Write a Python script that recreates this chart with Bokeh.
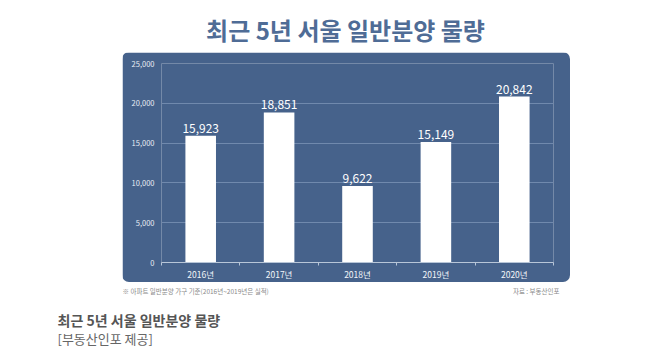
from bokeh.plotting import figure
from bokeh.models import (ColumnDataSource, FixedTicker, Label, Range1d,
                          NumeralTickFormatter, LabelSet, Spacer)
from bokeh.layouts import column, row
from bokeh.core.properties import value
from bokeh.embed import file_html
from bokeh.resources import INLINE

years = ["2016년", "2017년", "2018년", "2019년", "2020년"]
values = [15923, 18851, 9622, 15149, 20842]
value_labels = ["15,923", "18,851", "9,622", "15,149", "20,842"]
y_ticks = [0, 5000, 10000, 15000, 20000, 25000]

title_text = "최근 5년 서울 일반분양 물량"
note_text = "※ 아파트 일반분양 가구 기준(2016년~2019년은 실적)"
source_text = "자료 : 부동산인포"
caption_text = "최근 5년 서울 일반분양 물량"
caption_sub = "[부동산인포 제공]"

PANEL = "#46628b"
FONT = "Noto Sans CJK KR"

W = 637
H_TOP, H_MID, H_BOT = 52, 230, 70
PANEL_LEFT, PANEL_W = 122, 448


def text_fig(h):
    f = figure(width=W, height=h, output_backend="svg", toolbar_location=None,
               x_range=Range1d(0, W), y_range=Range1d(h, 0),
               x_axis_location=None, y_axis_location=None,
               min_border=0, min_border_left=0, min_border_right=0,
               min_border_top=0, min_border_bottom=0)
    f.grid.visible = False
    f.outline_line_color = None
    f.background_fill_color = "white"
    f.border_fill_color = "white"
    return f


def add_text(f, x, y, text, align, size, color, bold=False):
    f.add_layout(Label(x=x, y=y, text=text, text_align=align,
                       text_baseline="middle", text_font=FONT,
                       text_font_style="bold" if bold else "normal",
                       text_font_size=size, text_color=color))


# --- title
top = text_fig(H_TOP)
add_text(top, 345, 29, title_text, "center", "24px", "#4f6c96", bold=True)

# --- chart panel
xs = list(range(len(years)))
src = ColumnDataSource(dict(x=xs, top=values, lab=value_labels))

p = figure(width=PANEL_W, height=H_MID, output_backend="svg",
           toolbar_location=None,
           x_range=Range1d(-0.5, len(years) - 0.5), y_range=Range1d(0, 25000),
           min_border_left=39, min_border_right=17,
           min_border_top=11, min_border_bottom=17)
p.styles = {"border-radius": "7px", "overflow": "hidden"}
p.background_fill_color = PANEL
p.border_fill_color = PANEL
p.outline_line_color = None

p.vbar(x="x", top="top", width=0.39, source=src, fill_color="white",
       line_color=None)

p.add_layout(LabelSet(x="x", y="top", text="lab", source=src,
                      text_align="center", text_baseline="bottom", y_offset=3,
                      text_color="white", text_font_size="12px",
                      text_font=value(FONT)))

p.yaxis.ticker = FixedTicker(ticks=y_ticks)
p.yaxis.formatter = NumeralTickFormatter(format="0,0")
p.yaxis.axis_line_color = None
p.yaxis.major_tick_line_color = None
p.yaxis.major_tick_out = 0
p.yaxis.minor_tick_line_color = None
p.yaxis.major_label_text_color = "#e8edf3"
p.yaxis.major_label_text_font_size = "7.5px"
p.yaxis.major_label_text_font = FONT
p.yaxis.major_label_standoff = 7

p.xaxis.ticker = FixedTicker(ticks=xs,
                             minor_ticks=[i - 0.5 for i in range(len(years) + 1)])
p.xaxis.major_label_overrides = {i: y for i, y in zip(xs, years)}
p.xaxis.major_tick_line_color = None
p.xaxis.major_tick_out = 0
p.xaxis.major_tick_in = 0
p.xaxis.minor_tick_line_color = "#b8c6d8"
p.xaxis.minor_tick_out = 3
p.xaxis.minor_tick_in = 0
p.xaxis.axis_line_color = "#b8c6d8"
p.xaxis.axis_line_width = 1
p.xaxis.major_label_text_color = "#f3f6f9"
p.xaxis.major_label_text_font_size = "8.5px"
p.xaxis.major_label_text_font = FONT
p.xaxis.major_label_standoff = 2

p.xgrid.grid_line_color = None
p.ygrid.grid_line_color = "#7089ad"
p.ygrid.grid_line_width = 1

mid = row(Spacer(width=PANEL_LEFT, height=H_MID), p,
          Spacer(width=W - PANEL_LEFT - PANEL_W, height=H_MID), spacing=0)

# --- notes and caption
bot = text_fig(H_BOT)
add_text(bot, 122, 8, note_text, "left", "6.5px", "#8a8a8a")
add_text(bot, 559, 8, source_text, "right", "6.5px", "#8a8a8a")
add_text(bot, 57, 37, caption_text, "left", "14px", "#555555", bold=True)
add_text(bot, 57, 56, caption_sub, "left", "13px", "#666666")

layout = column(top, mid, bot, spacing=0)
open("out.html", "w").write(file_html(layout, INLINE))
